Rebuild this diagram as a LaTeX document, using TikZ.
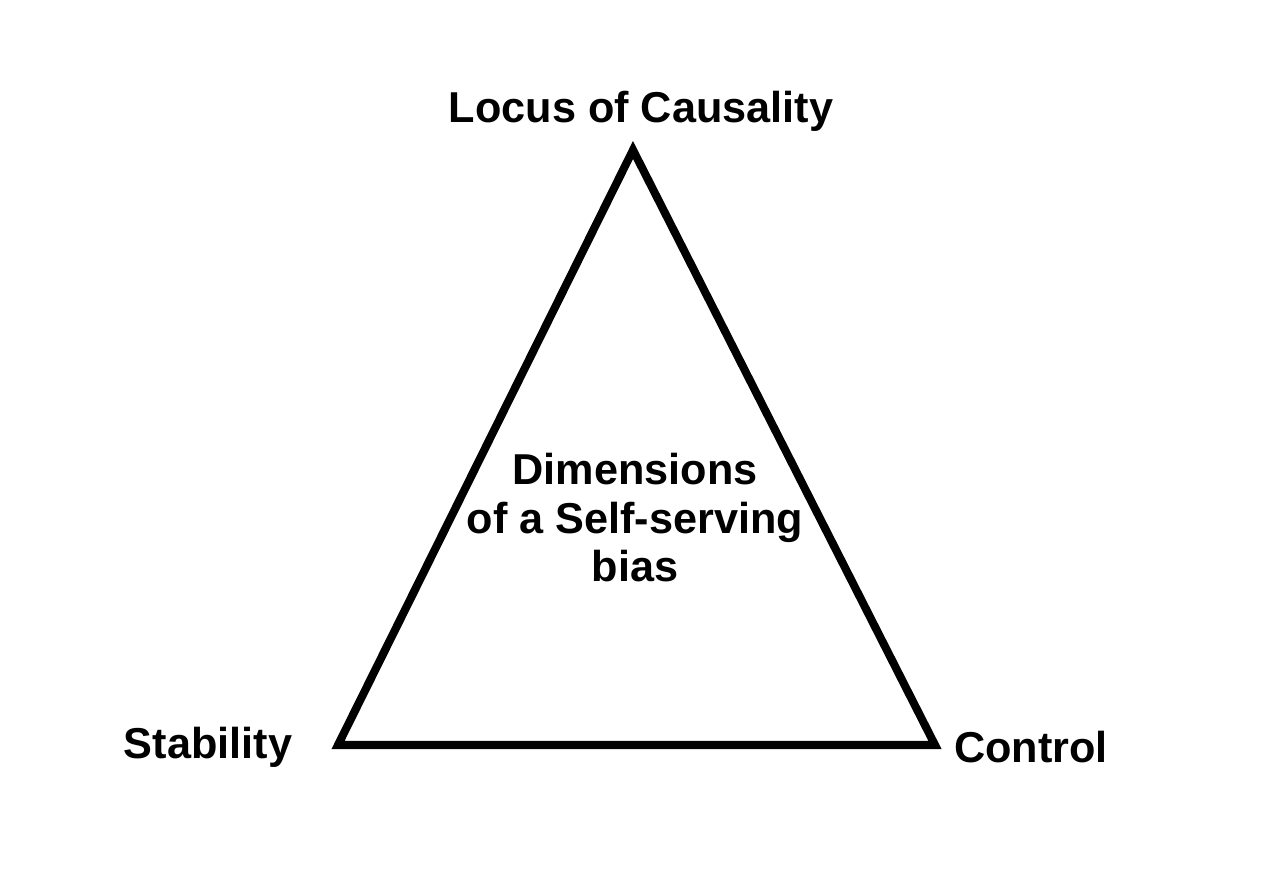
\documentclass[tikz,border=0pt]{standalone}
\usepackage{fontspec}
\setmainfont{Liberation Sans}
\tikzset{
	etiqueta/.style={font=\bfseries\fontsize{12.3}{13.8}\selectfont, inner sep=0pt, align=center},
	lado/.style={line width=2.3pt, line join=miter}
}
\begin{document}
\begin{tikzpicture}

\useasboundingbox (0,0) rectangle (12.8,8.94);

% Triangulo
\coordinate (T) at (6.33,7.44);
\coordinate (I) at (3.38,1.49);
\coordinate (D) at (9.35,1.49);
\draw[lado] (T) -- (I) -- (D) -- cycle;

% Etiquetas
\node[etiqueta, anchor=base] (locus) at (6.41,7.72) {Locus of Causality};
\node[etiqueta, anchor=base] (estab) at (2.08,1.36) {Stability};
\node[etiqueta, anchor=base] (contr) at (10.31,1.32) {Control};
\node[etiqueta] (centro) at (6.35,3.76) {Dimensions\\of a Self-serving\\bias};

\end{tikzpicture}
\end{document}
